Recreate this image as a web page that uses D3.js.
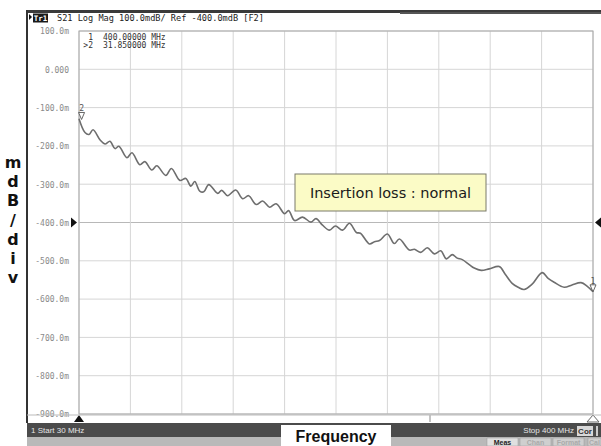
<!DOCTYPE html>
<html>
<head>
<meta charset="utf-8">
<script src="https://cdn.jsdelivr.net/npm/d3@7"></script>
<style>
  body { margin: 0; background: #fff; }
  svg { display: block; }
  .mono { font-family: "DejaVu Sans Mono", monospace; }
</style>
</head>
<body>
<div id="chart"></div>
<script>
// S21 trace (MHz / mdB)
const freqs = [30.0, 34.3, 37.2, 40.1, 45.1, 48.7, 52.3, 55.9, 58.7, 64.5, 68.1, 73.8, 77.4, 82.4, 86.0, 92.5, 96.5,
  102.6, 106.9, 110.5, 113.3, 116.9, 119.8, 123.4, 129.9, 132.7, 137.0, 142.8, 147.8, 152.1, 157.5, 162.2, 167.2,
  171.9, 178.0, 180.9, 185.2, 190.9, 197.0, 200.6, 205.3, 210.3, 214.6, 219.7, 224.7, 229.7, 232.6, 239.1, 242.7,
  246.3, 252.0, 257.0, 260.6, 267.8, 271.4, 276.1, 280.7, 285.8, 290.4, 294.4, 298.7, 302.3, 305.9, 310.9, 314.5,
  319.5, 325.3, 332.5, 336.8, 341.8, 346.1, 350.4, 356.2, 363.4, 367.7, 372.0, 379.2, 384.9, 391.4, 395.7, 400.0];
const s21 = [-129, -165, -170, -158, -184, -195, -188, -207, -201, -231, -218, -249, -241, -263, -252, -277, -259,
  -290, -285, -305, -293, -318, -320, -301, -324, -316, -330, -315, -338, -330, -353, -344, -360,
  -351, -377, -369, -395, -386, -399, -390, -407, -420, -409, -420, -402, -426, -428, -456, -450,
  -447, -430, -455, -443, -472, -470, -478, -466, -482, -474, -495, -484, -493, -497, -510, -519,
  -525, -521, -515, -535, -559, -569, -575, -561, -531, -546, -556, -569, -563, -557, -566, -581];

const yTicks = [100, 0, -100, -200, -300, -400, -500, -600, -700, -800, -900];
const xDivs = [30, 67, 104, 141, 178, 215, 252, 289, 326, 363, 400];
const markerIds = ["1", "2"];
const markerFreqs = [400, 31.85];
const markerVals = [-581, -131];
const refLevel = -400;

const titleText = "S21 Log Mag 100.0mdB/ Ref -400.0mdB [F2]";
const readout = [["1", "400.00000 MHz"], [">2", "31.850000 MHz"]];
const unitLetters = ["m", "d", "B", "/", "d", "i", "v"];
const softKeys = ["Meas", "Chan", "Format", "Cal"];

const W = 601, H = 446;
const svg = d3.select("#chart").append("svg").attr("width", W).attr("height", H);

const x = d3.scaleLinear().domain([30, 400]).range([79, 593]);
const y = d3.scaleLinear().domain([-900, 100]).range([414, 31]);

// screen frame
svg.append("rect").attr("x", 27).attr("y", 10).attr("width", W - 27).attr("height", 3).attr("fill", "#3a3a3a");
svg.append("rect").attr("x", 400).attr("y", 12).attr("width", W - 400).attr("height", 2).attr("fill", "#555");
svg.append("rect").attr("x", 26).attr("y", 10).attr("width", 2).attr("height", 413).attr("fill", "#333");

// title line
svg.append("path").attr("d", "M29,14 L32,17 L29,20 Z").attr("fill", "#111");
svg.append("rect").attr("x", 33).attr("y", 13.5).attr("width", 15).attr("height", 9).attr("fill", "#1a1a1a");
svg.append("text").attr("class", "mono").attr("x", 40.5).attr("y", 20.8).attr("text-anchor", "middle")
  .attr("font-size", 7.5).attr("font-weight", "bold").attr("fill", "#fff").text("Tr1");
svg.append("text").attr("class", "mono").attr("x", 57).attr("y", 21).attr("font-size", 8.6)
  .attr("fill", "#222").text(titleText);

// grid
const grid = svg.append("g");
grid.selectAll("line.h").data(yTicks).join("line").attr("class", "h")
  .attr("x1", x(30)).attr("x2", x(400)).attr("y1", d => y(d)).attr("y2", d => y(d))
  .attr("stroke", d => (d === refLevel ? "#b8b8b8" : "#d6d6d6")).attr("stroke-width", 1);
grid.selectAll("line.v").data(xDivs).join("line").attr("class", "v")
  .attr("x1", d => x(d)).attr("x2", d => x(d)).attr("y1", y(100)).attr("y2", y(-900))
  .attr("stroke", "#d6d6d6").attr("stroke-width", 1);
svg.append("rect").attr("x", x(30)).attr("y", y(100)).attr("width", x(400) - x(30)).attr("height", y(-900) - y(100))
  .attr("fill", "none").attr("stroke", "#a8a8a8").attr("stroke-width", 1);

// y axis labels
const yAxis = d3.axisLeft(y).tickValues(yTicks).tickSize(0).tickPadding(0)
  .tickFormat(d => (d === 0 ? "0.000" : d.toFixed(1) + "m"));
const gy = svg.append("g").attr("transform", "translate(69,0)").call(yAxis);
gy.select(".domain").remove();
gy.selectAll("text").attr("class", "mono").attr("font-size", 8).attr("fill", "#8a8a8a")
  .attr("font-family", "DejaVu Sans Mono").attr("dy", "0.35em");

// reference markers
svg.append("path").attr("d", `M71,${y(refLevel) - 5} L77,${y(refLevel)} L71,${y(refLevel) + 5} Z`).attr("fill", "#111");
svg.append("path").attr("d", `M601,${y(refLevel) - 5} L595,${y(refLevel)} L601,${y(refLevel) + 5} Z`).attr("fill", "#111");

// marker readout
const ro = svg.append("g").attr("class", "mono").attr("font-size", 8).attr("fill", "#333");
readout.forEach((r, i) => {
  ro.append("text").attr("x", 93).attr("y", 40 + i * 7.5).attr("text-anchor", "end").text(r[0]);
  ro.append("text").attr("x", 103).attr("y", 40 + i * 7.5).text(r[1]);
});

// trace
const pts = freqs.map((f, i) => [f, s21[i]]);
const line = d3.line().x(d => x(d[0])).y(d => y(d[1])).curve(d3.curveCatmullRom.alpha(0.5));
svg.append("path").datum(pts).attr("d", line).attr("fill", "none")
  .attr("stroke", "#6e6e6e").attr("stroke-width", 1.6).attr("stroke-linejoin", "round");

// trace markers
markerIds.forEach((id, i) => {
  const mx = x(markerFreqs[i]), my = y(markerVals[i]);
  svg.append("path").attr("d", `M${mx - 3},${my - 7} L${mx + 3},${my - 7} L${mx},${my} Z`)
    .attr("fill", "#fff").attr("stroke", "#555").attr("stroke-width", 0.9);
  svg.append("text").attr("class", "mono").attr("x", mx).attr("y", my - 8).attr("text-anchor", "middle")
    .attr("font-size", 8).attr("fill", "#555").text(id);
});

// bottom stimulus markers
const by = y(-900);
svg.append("path").attr("d", `M${x(30) - 5},${by + 8} L${x(30) + 5},${by + 8} L${x(30)},${by + 1} Z`).attr("fill", "#111");
svg.append("path").attr("d", `M${x(400) - 6},${by + 8} L${x(400) + 6},${by + 8} L${x(400)},${by + 1} Z`)
  .attr("fill", "#fff").attr("stroke", "#666");
svg.append("line").attr("x1", 430).attr("x2", 430).attr("y1", by + 1).attr("y2", by + 8).attr("stroke", "#888");
svg.append("line").attr("x1", 27).attr("x2", W).attr("y1", by + 1).attr("y2", by + 1).attr("stroke", "#bbb");

// status bars
svg.append("rect").attr("x", 27).attr("y", 423).attr("width", W - 27).attr("height", 14).attr("fill", "#4b4b4b");
svg.append("rect").attr("x", 27).attr("y", 437).attr("width", W - 27).attr("height", 9).attr("fill", "#b9b9b9");
svg.append("text").attr("x", 31).attr("y", 433).attr("font-family", "Liberation Sans").attr("font-size", 8)
  .attr("fill", "#e6e6e6").text("1  Start 30 MHz");
svg.append("text").attr("x", 574).attr("y", 433).attr("text-anchor", "end").attr("font-family", "Liberation Sans")
  .attr("font-size", 8).attr("fill", "#e6e6e6").text("Stop 400 MHz");
svg.append("rect").attr("x", 577).attr("y", 426).attr("width", 16).attr("height", 10).attr("fill", "#d8d8d8");
svg.append("text").attr("x", 585).attr("y", 434).attr("text-anchor", "middle").attr("font-family", "Liberation Sans")
  .attr("font-size", 8).attr("font-weight", "bold").attr("fill", "#333").text("Cor");
svg.append("rect").attr("x", 596).attr("y", 426).attr("width", 2).attr("height", 10).attr("fill", "#ccc");

// soft keys
const keyX = [487, 520, 553, 588];
softKeys.forEach((k, i) => {
  svg.append("rect").attr("x", keyX[i]).attr("y", 438).attr("width", i === 3 ? 13 : 31).attr("height", 8)
    .attr("fill", i === 0 ? "#e0e0e0" : "#cfcfcf").attr("stroke", "#999").attr("stroke-width", 0.5);
  svg.append("text").attr("x", keyX[i] + (i === 3 ? 6.5 : 15.5)).attr("y", 445).attr("text-anchor", "middle")
    .attr("font-family", "Liberation Sans").attr("font-size", 7).attr("font-weight", "bold")
    .attr("fill", i === 0 ? "#222" : "#aaa").text(k);
});

// axis titles
svg.append("rect").attr("x", 281).attr("y", 425).attr("width", 110).attr("height", 21).attr("fill", "#fff");
svg.append("text").attr("x", 336).attr("y", 442).attr("text-anchor", "middle").attr("font-family", "Liberation Sans")
  .attr("font-size", 16).attr("font-weight", "bold").attr("fill", "#111").text("Frequency");

svg.append("g").selectAll("text").data(unitLetters).join("text")
  .attr("x", 13).attr("y", (d, i) => 168 + i * 19.2).attr("text-anchor", "middle")
  .attr("font-family", "DejaVu Sans").attr("font-size", 16).attr("font-weight", "bold").attr("fill", "#111")
  .text(d => d);

// annotation
svg.append("rect").attr("x", 295).attr("y", 174).attr("width", 191).attr("height", 37)
  .attr("fill", "#fbfbc6").attr("stroke", "#7a7a6a").attr("stroke-width", 1);
svg.append("text").attr("x", 390.5).attr("y", 197.5).attr("text-anchor", "middle")
  .attr("font-family", "DejaVu Sans").attr("font-size", 14.5).attr("fill", "#1a1a1a")
  .text("Insertion loss : normal");
</script>
</body>
</html>
